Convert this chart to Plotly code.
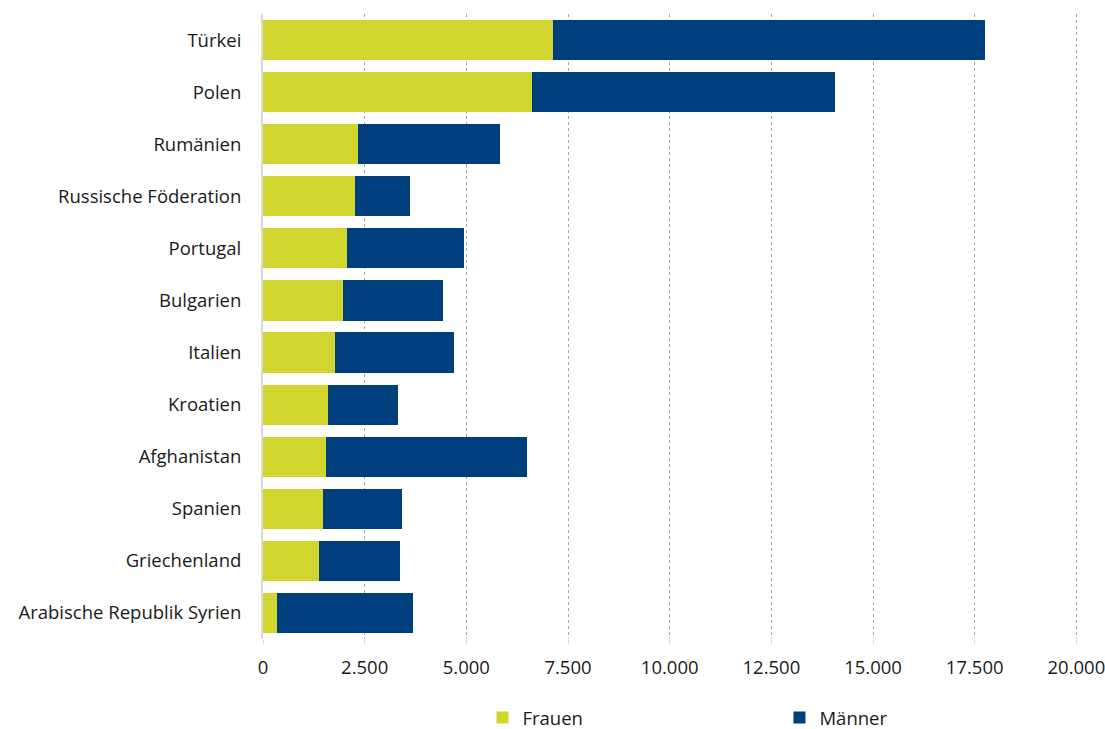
import plotly.graph_objects as go

laender = ["Türkei", "Polen", "Rumänien", "Russische Föderation", "Portugal",
           "Bulgarien", "Italien", "Kroatien", "Afghanistan", "Spanien",
           "Griechenland", "Arabische Republik Syrien"]
frauen = [7130, 6620, 2345, 2270, 2075, 1960, 1765, 1600, 1560, 1485, 1365, 350]
maenner = [10625, 7455, 3485, 1335, 2855, 2465, 2930, 1725, 4940, 1925, 1995, 3330]

frauen_farbe = "#d0d62e"
maenner_farbe = "#003f7d"

fig = go.Figure()
fig.add_trace(go.Bar(y=laender, x=frauen, name="Frauen", orientation="h",
                     marker=dict(color=frauen_farbe, line=dict(width=0))))
fig.add_trace(go.Bar(y=laender, x=maenner, name="Männer", orientation="h",
                     marker=dict(color=maenner_farbe, line=dict(width=0))))

fig.update_layout(
    barmode="stack",
    bargap=0.23,
    width=1105, height=729,
    margin=dict(l=263, r=27, t=14, b=90, autoexpand=False),
    plot_bgcolor="#FFFFFF",
    paper_bgcolor="#FFFFFF",
    separators=",.",
    font=dict(family="Open Sans", size=18.5, color="#1a1a1a"),
    legend=dict(orientation="h", x=0.2693, xanchor="left", y=-98 / 625, yanchor="bottom",
                entrywidth=252, font=dict(size=18.5), traceorder="normal"),
)
# etwas über 20.000 hinaus, damit die letzte Gitterlinie gezeichnet wird
fig.update_xaxes(range=[0, 20040], dtick=2500, tickformat=",", showgrid=True,
                 gridcolor="#a6a6a6", griddash="dot", gridwidth=1,
                 zeroline=False, ticks="outside", ticklen=4, tickcolor="#d9d9d9",
                 ticklabelstandoff=8, ticklabeloverflow="allow",
                 tickfont=dict(size=18.5), automargin=False)
fig.update_yaxes(autorange="reversed", showline=True, linecolor="#d9d9d9", linewidth=2,
                 ticks="", ticklabelstandoff=16, tickfont=dict(size=18.5), automargin=False)

# ohne den Standardrand des body liegt die Grafik genau im Fenster
fig.write_html("out.html", config={"displayModeBar": False},
               post_script="document.body.style.margin='0';document.body.style.overflow='hidden';")
